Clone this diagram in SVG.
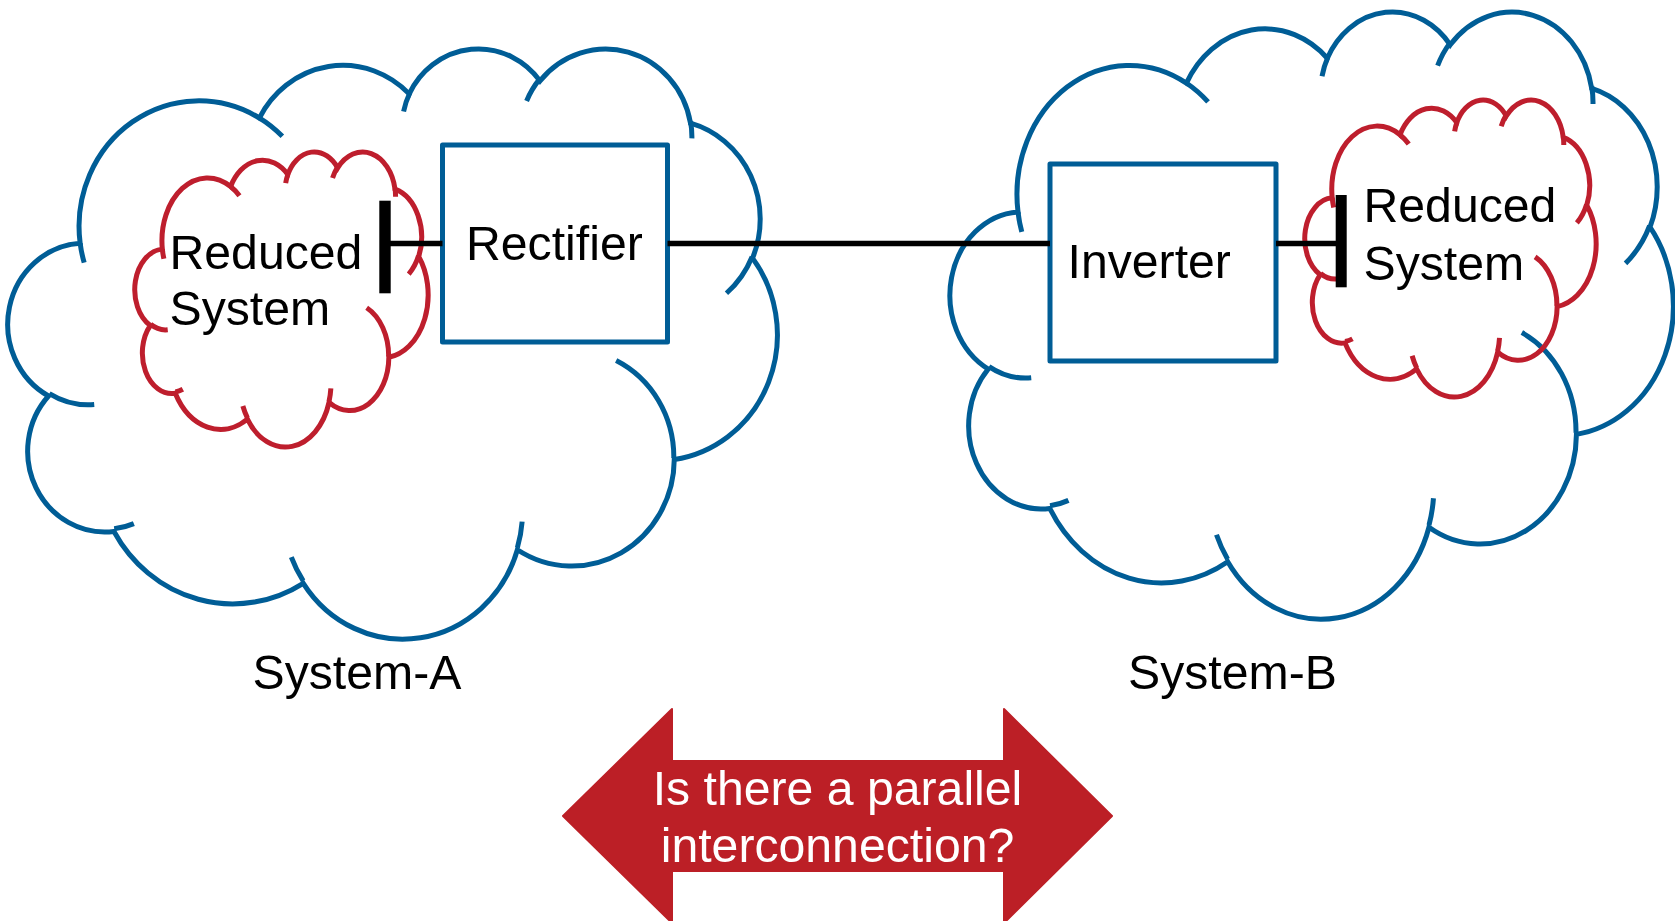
<svg xmlns="http://www.w3.org/2000/svg" xmlns:xlink="http://www.w3.org/1999/xlink" width="1675" height="921" viewBox="0 0 1675 921">
  <style>
    .cloud { fill: none; stroke-width: 5; stroke-linecap: butt; }
    .blue { stroke: #005D96; }
    .red { stroke: #BE1E2D; }
    .box { fill: none; stroke: #005D96; stroke-width: 5; stroke-linejoin: round; }
    .wire { stroke: #000; stroke-width: 5.5; fill: none; }
    .bar { fill: #000; }
    .t { font-family: "Liberation Sans", Arial, sans-serif; font-size: 48.2px; fill: #000; }
    .tw { font-family: "Liberation Sans", Arial, sans-serif; font-size: 48.2px; fill: #FFFFFF; text-anchor: middle; }
  </style>
  <defs>
    <g id="cloudShape">
      <path vector-effect="non-scaling-stroke" d="M3900,14370 A6753,9190 0 0 1 14005,5202 A5333,7267 0 0 1 22458,3433 A4365,5945 0 0 1 29835,2481 A4857,6595 0 0 1 38321,5576 A5333,7273 0 0 1 41821,15460 A6775,9220 0 0 1 37406,30203 A5785,7867 0 0 1 28558,36813 A6752,9215 0 0 1 16484,39267 A7720,10543 0 0 1 5807,35471 A4360,5918 0 0 1 2115,25551 A4345,5945 0 0 1 3900,14370 Z"/>
      <path vector-effect="non-scaling-stroke" d="M4693,26177 A4345,5945 0 0 1 2160,25380 M6928,34899 A4360,5918 0 0 1 5820,35281 M16478,39090 A6752,9215 0 0 1 15809,37347 M28827,34751 A6752,9215 0 0 1 28560,36660 M34129,22954 A5785,7867 0 0 1 37381,30090 M41798,15354 A5333,7273 0 0 1 40350,18030 M38324,5426 A4857,6595 0 0 1 38400,6690 M29078,3952 A4857,6595 0 0 1 29820,2339 M22141,4720 A4365,5945 0 0 1 22500,3331 M14000,5192 A6753,9190 0 0 1 15302,6543 M4127,15789 A6753,9190 0 0 1 3900,14371"/>
    </g>
  </defs>

  <g id="system-a">
    <use xlink:href="#cloudShape" class="cloud blue" transform="translate(11,47) scale(0.0177315,0.0136574)"/>
    <text class="t" x="252.5" y="689">System-A</text>
  </g>

  <g id="system-b">
    <use xlink:href="#cloudShape" class="cloud blue" transform="translate(953,10) scale(0.0166667,0.0140509)"/>
    <text class="t" x="1128" y="689">System-B</text>
  </g>

  <g id="reduced-system-a">
    <use xlink:href="#cloudShape" class="cloud red" transform="translate(136,151) scale(0.0067593,0.0068287)"/>
    <text class="t"><tspan x="169.5" y="268.5">Reduced</tspan><tspan x="169.5" y="325">System</tspan></text>
  </g>

  <g id="reduced-system-b">
    <use xlink:href="#cloudShape" class="cloud red" transform="translate(1306,99) scale(0.0067130,0.0068750)"/>
    <text class="t"><tspan x="1363.5" y="222">Reduced</tspan><tspan x="1363.5" y="280">System</tspan></text>
  </g>

  <g id="rectifier">
    <rect class="box" x="442.5" y="145" width="225" height="197"/>
    <text class="t" x="466" y="260">Rectifier</text>
  </g>

  <g id="inverter">
    <rect class="box" x="1050" y="164" width="226" height="197"/>
    <text class="t" x="1067.5" y="278">Inverter</text>
  </g>

  <g id="connectors">
    <line class="wire" x1="385" y1="243.5" x2="442.5" y2="243.5"/>
    <rect class="bar" x="379.3" y="200.7" width="11.4" height="92.6"/>
    <line class="wire" x1="667.5" y1="243.5" x2="1050" y2="243.5"/>
    <line class="wire" x1="1276" y1="243.5" x2="1341" y2="243.5"/>
    <rect class="bar" x="1335.7" y="195" width="11" height="92.3"/>
  </g>

  <g id="question-arrow">
    <polygon points="563,816 672,709 672,761 1004,761 1004,709 1112,816 1004,923 1004,871 672,871 672,923" fill="#BC1F26" stroke="#BC1F26" stroke-width="2" stroke-linejoin="round"/>
    <text class="tw"><tspan x="837.5" y="805">Is there a parallel</tspan><tspan x="837.5" y="862">interconnection?</tspan></text>
  </g>
</svg>
